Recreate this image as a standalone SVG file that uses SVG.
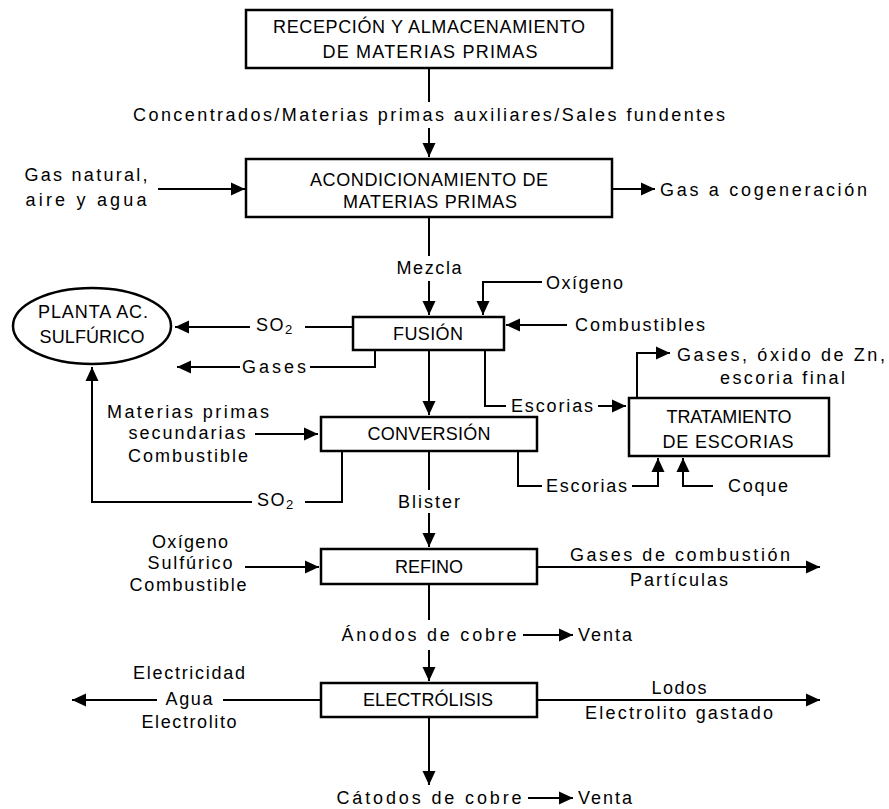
<svg xmlns="http://www.w3.org/2000/svg" width="889" height="809" viewBox="0 0 889 809">
<style>
text{font-family:"Liberation Sans",Arial,sans-serif;font-size:18px;fill:#000;dominant-baseline:central}
.c{text-anchor:middle}
.box{fill:#fff;stroke:#000;stroke-width:2.5}
.ln{fill:none;stroke:#000;stroke-width:2}
.ar{marker-end:url(#ah)}
</style>
<defs>
<marker id="ah" viewBox="0 0 14 14" refX="14" refY="7" markerWidth="14" markerHeight="14" markerUnits="userSpaceOnUse" orient="auto">
<path d="M0,0.5 L14,7 L0,13.5 z" fill="#000"/>
</marker>
</defs>
<rect width="889" height="809" fill="#fff"/>
<g id="connectors">
<path class="ln" d="M429,68 V102"/>
<path class="ln ar" d="M429,128 V157"/>
<path class="ln ar" d="M158,189 H245"/>
<path class="ln ar" d="M612,189 H655"/>
<path class="ln" d="M429,217 V256"/>
<path class="ln ar" d="M429,281 V315"/>
<path class="ln ar" d="M542,282 H483 V315"/>
<path class="ln ar" d="M567,325 H506"/>
<path class="ln" d="M353,327 H305"/>
<path class="ln ar" d="M250,327 H175"/>
<path class="ln" d="M375,350 V367 H310"/>
<path class="ln ar" d="M240,367 H177"/>
<path class="ln ar" d="M429,350 V415"/>
<path class="ln" d="M485,350 V406 H506"/>
<path class="ln ar" d="M598,406 H626"/>
<path class="ln ar" d="M637,398 V353 H670"/>
<path class="ln ar" d="M255,434 H318"/>
<path class="ln" d="M342,451 V502 H305"/>
<path class="ln ar" d="M252,502 H92 V367"/>
<path class="ln" d="M518,451 V486 H542"/>
<path class="ln ar" d="M632,486 H658 V458"/>
<path class="ln ar" d="M713,486 H683 V458"/>
<path class="ln" d="M429,451 V490"/>
<path class="ln ar" d="M429,513 V547"/>
<path class="ln ar" d="M245,567 H319"/>
<path class="ln ar" d="M537,567 H820"/>
<path class="ln" d="M429,584 V620"/>
<path class="ln ar" d="M523,635 H573"/>
<path class="ln ar" d="M429,650 V681"/>
<path class="ln" d="M321,700 H223"/>
<path class="ln ar" d="M157,700 H72"/>
<path class="ln ar" d="M537,700 H820"/>
<path class="ln ar" d="M429,717 V785"/>
<path class="ln ar" d="M528,798 H573"/>
</g>
<g id="labels">
<text class="c" x="429" y="115" textLength="592" lengthAdjust="spacing">Concentrados/Materias primas auxiliares/Sales fundentes</text>
<text class="c" x="86" y="175" textLength="123" lengthAdjust="spacing">Gas natural,</text>
<text class="c" x="86" y="200" textLength="121" lengthAdjust="spacing">aire y agua</text>
<text x="660" y="190" textLength="207" lengthAdjust="spacing">Gas a cogeneración</text>
<text class="c" x="429" y="268" textLength="65" lengthAdjust="spacing">Mezcla</text>
<text x="546" y="283" textLength="77" lengthAdjust="spacing">Oxígeno</text>
<text x="575" y="325" textLength="130" lengthAdjust="spacing">Combustibles</text>
<text x="256" y="325" letter-spacing="1.5">SO<tspan font-size="13" dy="4">2</tspan></text>
<text x="242" y="367" textLength="64" lengthAdjust="spacing">Gases</text>
<text x="511" y="406" textLength="82" lengthAdjust="spacing">Escorias</text>
<text x="677" y="355" textLength="208" lengthAdjust="spacing">Gases, óxido de Zn,</text>
<text x="720" y="378" textLength="125" lengthAdjust="spacing">escoria final</text>
<text class="c" x="188" y="412" textLength="162" lengthAdjust="spacing">Materias primas</text>
<text class="c" x="187" y="433" textLength="117" lengthAdjust="spacing">secundarias</text>
<text class="c" x="188" y="456" textLength="120" lengthAdjust="spacing">Combustible</text>
<text x="257" y="500" letter-spacing="1.5">SO<tspan font-size="13" dy="4">2</tspan></text>
<text x="546" y="486" textLength="81" lengthAdjust="spacing">Escorias</text>
<text x="728" y="486" textLength="60" lengthAdjust="spacing">Coque</text>
<text class="c" x="429" y="502" textLength="62" lengthAdjust="spacing">Blister</text>
<text class="c" x="190" y="542" textLength="76" lengthAdjust="spacing">Oxígeno</text>
<text class="c" x="190" y="563" textLength="85" lengthAdjust="spacing">Sulfúrico</text>
<text class="c" x="188" y="585" textLength="117" lengthAdjust="spacing">Combustible</text>
<text class="c" x="680" y="555" textLength="220" lengthAdjust="spacing">Gases de combustión</text>
<text class="c" x="679" y="580" textLength="98" lengthAdjust="spacing">Partículas</text>
<text class="c" x="429" y="635" textLength="175" lengthAdjust="spacing">Ánodos de cobre</text>
<text x="578" y="635" textLength="54" lengthAdjust="spacing">Venta</text>
<text class="c" x="189" y="673" textLength="112" lengthAdjust="spacing">Electricidad</text>
<text class="c" x="189" y="699" textLength="47" lengthAdjust="spacing">Agua</text>
<text class="c" x="189" y="722" textLength="95" lengthAdjust="spacing">Electrolito</text>
<text class="c" x="679" y="688" textLength="55" lengthAdjust="spacing">Lodos</text>
<text class="c" x="679" y="713" textLength="188" lengthAdjust="spacing">Electrolito gastado</text>
<text class="c" x="429" y="798" textLength="185" lengthAdjust="spacing">Cátodos de cobre</text>
<text x="578" y="798" textLength="54" lengthAdjust="spacing">Venta</text>
</g>
<g id="recepcion">
<rect class="box" x="246" y="10" width="366" height="58"/>
<text class="c" x="429" y="27" textLength="312" lengthAdjust="spacing">RECEPCIÓN Y ALMACENAMIENTO</text>
<text class="c" x="430" y="52" textLength="215" lengthAdjust="spacing">DE MATERIAS PRIMAS</text>
</g>
<g id="acondicionamiento">
<rect class="box" x="246" y="159" width="366" height="58"/>
<text class="c" x="429" y="180" textLength="238" lengthAdjust="spacing">ACONDICIONAMIENTO DE</text>
<text class="c" x="430" y="202" textLength="174" lengthAdjust="spacing">MATERIAS PRIMAS</text>
</g>
<g id="fusion">
<rect class="box" x="353" y="317" width="151" height="33"/>
<text class="c" x="428" y="334" textLength="70" lengthAdjust="spacing">FUSIÓN</text>
</g>
<g id="planta">
<ellipse class="box" cx="92" cy="326" rx="79" ry="38"/>
<text class="c" x="93" y="312" textLength="110" lengthAdjust="spacing">PLANTA AC.</text>
<text class="c" x="92" y="337" textLength="105" lengthAdjust="spacing">SULFÚRICO</text>
</g>
<g id="conversion">
<rect class="box" x="321" y="417" width="216" height="34"/>
<text class="c" x="429" y="434" textLength="123" lengthAdjust="spacing">CONVERSIÓN</text>
</g>
<g id="tratamiento">
<rect class="box" x="629" y="398" width="200" height="58"/>
<text class="c" x="729" y="417" textLength="125" lengthAdjust="spacing">TRATAMIENTO</text>
<text class="c" x="728" y="442" textLength="131" lengthAdjust="spacing">DE ESCORIAS</text>
</g>
<g id="refino">
<rect class="box" x="321" y="549" width="216" height="35"/>
<text class="c" x="429" y="567" textLength="68" lengthAdjust="spacing">REFINO</text>
</g>
<g id="electrolisis">
<rect class="box" x="321" y="683" width="216" height="34"/>
<text class="c" x="428" y="700" textLength="130" lengthAdjust="spacing">ELECTRÓLISIS</text>
</g>
</svg>
